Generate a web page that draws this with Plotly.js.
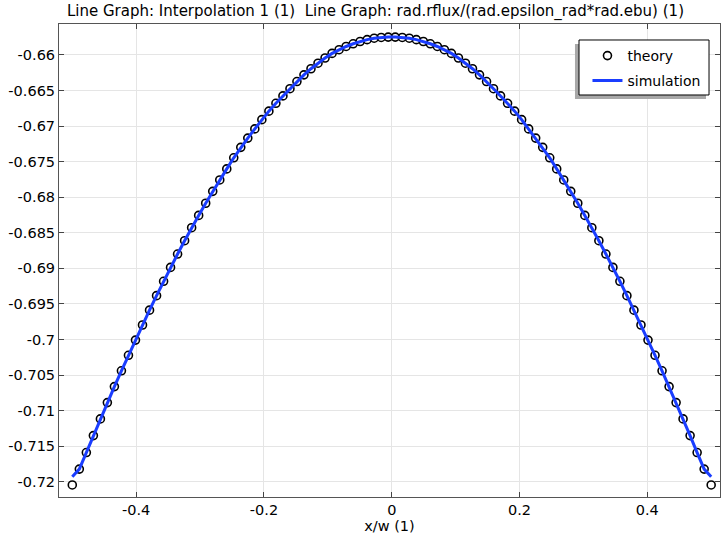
<!DOCTYPE html>
<html>
<head>
<meta charset="utf-8">
<script src="https://cdn.plot.ly/plotly-3.0.1.min.js"></script>
<style>html,body{margin:0;padding:0;background:#fff;}#chart{width:721px;height:539px;}</style>
</head>
<body>
<div id="chart"></div>
<script>
// theory markers: 92 samples from x/w=-0.5 to 0.5
var theoryX = [
-0.5,-0.4890,-0.4780,-0.4670,-0.4560,-0.4451,-0.4341,-0.4231,-0.4121,-0.4011,
-0.3901,-0.3791,-0.3681,-0.3571,-0.3462,-0.3352,-0.3242,-0.3132,-0.3022,-0.2912,
-0.2802,-0.2692,-0.2582,-0.2473,-0.2363,-0.2253,-0.2143,-0.2033,-0.1923,-0.1813,
-0.1703,-0.1593,-0.1484,-0.1374,-0.1264,-0.1154,-0.1044,-0.0934,-0.0824,-0.0714,
-0.0604,-0.0495,-0.0385,-0.0275,-0.0165,-0.0055,
0.0055,0.0165,0.0275,0.0385,0.0495,0.0604,0.0714,0.0824,0.0934,0.1044,
0.1154,0.1264,0.1374,0.1484,0.1593,0.1703,0.1813,0.1923,0.2033,0.2143,
0.2253,0.2363,0.2473,0.2582,0.2692,0.2802,0.2912,0.3022,0.3132,0.3242,
0.3352,0.3462,0.3571,0.3681,0.3791,0.3901,0.4011,0.4121,0.4231,0.4341,
0.4451,0.4560,0.4670,0.4780,0.4890,0.5
];
var theoryY = [
-0.72046,-0.71823,-0.71590,-0.71352,-0.71117,-0.70888,-0.70663,-0.70441,-0.70223,-0.70009,
-0.69797,-0.69588,-0.69384,-0.69182,-0.68987,-0.68799,-0.68612,-0.68429,-0.68256,-0.68085,
-0.67918,-0.67758,-0.67602,-0.67446,-0.67299,-0.67169,-0.67040,-0.66910,-0.66790,-0.66680,
-0.66576,-0.66475,-0.66374,-0.66280,-0.66194,-0.66116,-0.66043,-0.65978,-0.65926,-0.65881,
-0.65843,-0.65811,-0.65785,-0.65765,-0.65754,-0.65749,
-0.65749,-0.65754,-0.65765,-0.65785,-0.65811,-0.65843,-0.65881,-0.65926,-0.65978,-0.66043,
-0.66116,-0.66194,-0.66280,-0.66374,-0.66475,-0.66576,-0.66680,-0.66790,-0.66910,-0.67040,
-0.67169,-0.67299,-0.67446,-0.67602,-0.67758,-0.67918,-0.68085,-0.68256,-0.68429,-0.68612,
-0.68799,-0.68987,-0.69182,-0.69384,-0.69588,-0.69797,-0.70009,-0.70223,-0.70441,-0.70663,
-0.70888,-0.71117,-0.71352,-0.71590,-0.71823,-0.72046
];
// simulation line
var simX = theoryX.slice();
var simY = [
-0.71930,-0.71823,-0.71590,-0.71352,-0.71117,-0.70888,-0.70663,-0.70441,-0.70223,-0.70009,
-0.69797,-0.69588,-0.69384,-0.69182,-0.68987,-0.68799,-0.68612,-0.68429,-0.68256,-0.68085,
-0.67918,-0.67758,-0.67602,-0.67446,-0.67299,-0.67169,-0.67040,-0.66910,-0.66790,-0.66680,
-0.66576,-0.66475,-0.66374,-0.66280,-0.66194,-0.66116,-0.66043,-0.65978,-0.65926,-0.65881,
-0.65843,-0.65811,-0.65785,-0.65765,-0.65754,-0.65749,
-0.65749,-0.65754,-0.65765,-0.65785,-0.65811,-0.65843,-0.65881,-0.65926,-0.65978,-0.66043,
-0.66116,-0.66194,-0.66280,-0.66374,-0.66475,-0.66576,-0.66680,-0.66790,-0.66910,-0.67040,
-0.67169,-0.67299,-0.67446,-0.67602,-0.67758,-0.67918,-0.68085,-0.68256,-0.68429,-0.68612,
-0.68799,-0.68987,-0.69182,-0.69384,-0.69588,-0.69797,-0.70009,-0.70223,-0.70441,-0.70663,
-0.70888,-0.71117,-0.71352,-0.71590,-0.71823,-0.71930
];
var xTickVals = [-0.4,-0.2,0,0.2,0.4];
var xTickText = ['-0.4','-0.2','0','0.2','0.4'];
var yTickVals = [-0.72,-0.715,-0.71,-0.705,-0.7,-0.695,-0.69,-0.685,-0.68,-0.675,-0.67,-0.665,-0.66];
var yTickText = ['-0.72','-0.715','-0.71','-0.705','-0.7','-0.695','-0.69','-0.685','-0.68','-0.675','-0.67','-0.665','-0.66'];
var seriesNames = ['theory','simulation'];

var FONT = 'DejaVu Sans, Liberation Sans, sans-serif';
var data = [
  {x: theoryX, y: theoryY, type:'scatter', mode:'markers', name: seriesNames[0],
   marker:{symbol:'circle-open', size:8, color:'#000', line:{width:1.6, color:'#000'}}, legend:'legend'},
  {x: simX, y: simY, type:'scatter', mode:'lines', name: seriesNames[1],
   line:{color:'#1a3dff', width:3}, legend:'legend2'}
];
var axisCommon = {
  showline:true, mirror:'ticks', linecolor:'#555', linewidth:1,
  ticks:'inside', ticklen:5, tickcolor:'#444', tickwidth:1,
  showgrid:true, gridcolor:'#e5e5e5', gridwidth:1, zeroline:false,
  tickfont:{family:FONT, size:14.5, color:'#000'}
};
var layout = {
  width:721, height:539,
  margin:{l:59, r:1, t:24, b:42, pad:0},
  paper_bgcolor:'#fff', plot_bgcolor:'#fff',
  font:{family:FONT, size:14, color:'#000'},
  title:{text:'Line Graph: Interpolation 1 (1)\u00a0 Line Graph: rad.rflux/(rad.epsilon_rad*rad.ebu) (1)',
    font:{family:FONT, size:15, color:'#000'}, xref:'container', x:0.0929, xanchor:'left',
    yref:'container', y:0.9796, yanchor:'middle'},
  xaxis: Object.assign({}, axisCommon, {range:[-0.5208,0.5138], tickmode:'array', tickvals:xTickVals, ticktext:xTickText,
    title:{text:'x/w (1)', font:{family:FONT, size:14.5, color:'#000'}, standoff:3}}),
  yaxis: Object.assign({}, axisCommon, {range:[-0.72215,-0.65565], tickmode:'array', tickvals:yTickVals, ticktext:yTickText}),
  showlegend:true,
  legend:{x:0.7995, xanchor:'left', y:0.9323, yanchor:'middle', bgcolor:'rgba(0,0,0,0)', borderwidth:0,
    font:{family:FONT, size:14, color:'#000'}, itemwidth:30},
  legend2:{x:0.7995, xanchor:'left', y:0.8795, yanchor:'middle', bgcolor:'rgba(0,0,0,0)', borderwidth:0,
    font:{family:FONT, size:14, color:'#000'}, itemwidth:30},
  shapes:[
    {type:'rect', xref:'paper', yref:'paper', x0:0.7806, x1:0.9788, y0:0.8414, y1:0.9577,
     fillcolor:'#a8a8a8', line:{width:0}, layer:'above'},
    {type:'rect', xref:'paper', yref:'paper', x0:0.7867, x1:0.9834, y0:0.8499, y1:0.9662,
     fillcolor:'#fff', line:{width:1, color:'#000'}, layer:'above'}
  ]
};
Plotly.newPlot('chart', data, layout, {displayModeBar:false, responsive:false});
</script>
</body>
</html>
